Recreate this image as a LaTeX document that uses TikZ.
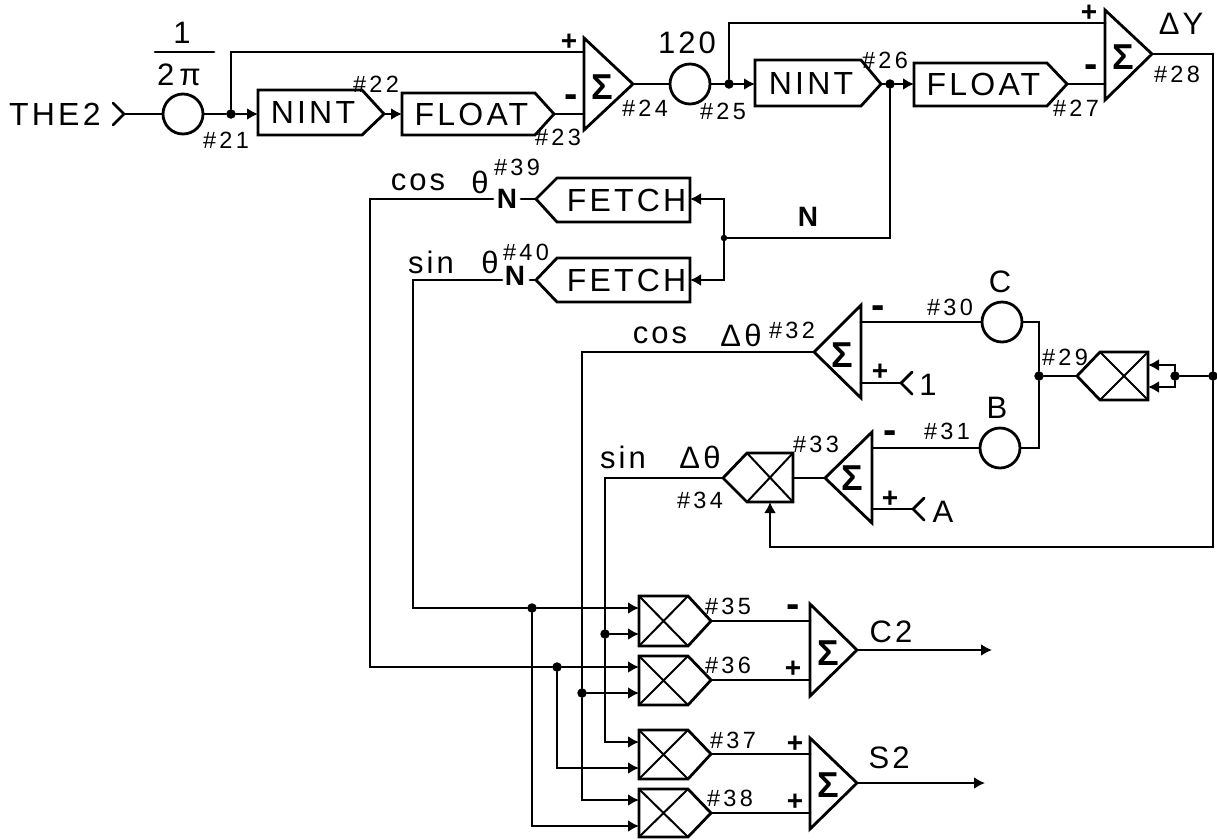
\documentclass[tikz,border=0pt]{standalone}
\usepackage{fontspec}
\setmainfont{Liberation Sans}
\newfontfamily\trkfont[LetterSpace=10]{Liberation Sans}
\newfontfamily\trkwide[LetterSpace=14]{Liberation Sans}
\usetikzlibrary{arrows.meta}
\tikzset{
  x=1pt,y=-1pt,
  wire/.style={line width=2.8pt,line cap=round,line join=miter},
  inwire/.style={wire,-{Latex[length=11pt,width=12pt]}},
  outline/.style={line width=2.8pt,line join=miter},
  cross/.style={line width=2pt},
  dot/.style={circle,fill=black,inner sep=0,minimum size=9.5pt},
  gain/.style={circle,draw,line width=2.8pt,inner sep=0,minimum size=40pt},
  blocktext/.style={inner sep=0,font=\fontsize{32}{36}\selectfont\trkfont},
  biglabel/.style={inner sep=0,font=\fontsize{31}{34}\selectfont\trkfont},
  numlabel/.style={inner sep=0,font=\fontsize{23.5}{26}\selectfont\trkwide},
  sigma/.style={inner sep=0,font=\fontsize{36}{38}\selectfont\bfseries},
  plus/.style={inner sep=0,font=\fontsize{28}{30}\selectfont\bfseries},
  minus/.style={inner sep=0,font=\fontsize{40}{42}\selectfont\bfseries},
  boldn/.style={inner sep=0,font=\fontsize{28}{30}\selectfont\bfseries},
}
% name, flat x, top y, bottom y, tip x, tip y, sigma x, sigma y
\newcommand{\sumgate}[8]{%
  \draw[outline] (#2,#3) -- (#5,#6) -- (#2,#4) -- cycle;
  \coordinate (#1-out) at (#5,#6);
  \node[sigma] (#1) at (#7,#8) {Σ};
}
% name, flat x, shoulder x, tip x, top y, bottom y, tip y, text
\newcommand{\tagbox}[8]{%
  \draw[outline] (#2,#5) -- (#3,#5) -- (#4,#7) -- (#3,#6) -- (#2,#6) -- cycle;
  \coordinate (#1-out) at (#4,#7);
  \node[blocktext] (#1) at ({(#2+#3)/2+3},{(#5+#6)/2}) {#8};
}
% name, flat x, shoulder x, tip x, top y, bottom y, tip y
\newcommand{\multgate}[7]{%
  \draw[outline] (#2,#5) -- (#3,#5) -- (#4,#7) -- (#3,#6) -- (#2,#6) -- cycle;
  \draw[cross] (#2,#5) -- (#3,#6) (#2,#6) -- (#3,#5);
  \coordinate (#1-out) at (#4,#7);
  \node[inner sep=0] (#1) at ({(#2+#3)/2},{(#5+#6)/2}) {};
}
% name, x, y, direction
\newcommand{\fork}[4]{%
  \draw[wire] (#2-#4*11,#3-11) -- (#2,#3) -- (#2-#4*11,#3+11);
  \coordinate (#1) at (#2,#3);
}
\begin{document}
\begin{tikzpicture}
\useasboundingbox (0,0) rectangle (1217,839);

% ---------- top row ----------
\node[blocktext,anchor=west] (the2) at (9,114) {THE2};
\fork{inA}{124}{114}{1}
\node[gain] (g21) at (183,114) {};
\node[biglabel] (fr1) at (182,33) {1};
\coordinate (barL) at (155,52);
\coordinate (barR) at (214,52);
\draw[wire] (barL) -- (barR);
\node[biglabel] (fr2) at (179,75) {2\,π};
\node[dot] (j21) at (231,114) {};
\tagbox{nint1}{258}{362}{384}{90}{135}{114}{NINT}
\tagbox{float1}{402}{535}{554}{93}{135}{114}{FLOAT}
\sumgate{s24}{584}{38}{130}{633}{84}{602}{87}
\coordinate (s24a) at (584,52);
\coordinate (s24b) at (584,114);
\coordinate (nint1in) at (258,114);
\coordinate (float1in) at (402,114);
\node[gain] (g25) at (690,84) {};
\node[biglabel] (l120) at (687,43) {120};
\node[dot] (j25) at (729,84) {};
\tagbox{nint2}{755}{861}{881}{60}{106}{84}{NINT}
\tagbox{float2}{914}{1047}{1067}{63}{106}{84}{FLOAT}
\sumgate{s28}{1105}{10}{100}{1152}{54}{1123}{57}
\coordinate (s28a) at (1105,23);
\coordinate (s28b) at (1105,84);
\coordinate (nint2in) at (755,84);
\coordinate (float2in) at (914,84);
\node[dot] (j26) at (890,84) {};
\coordinate (rc) at (1213,54);

\draw[wire] (inA) -- (g21);
\draw[wire] (g21) -- (j21);
\draw[inwire] (j21) -- (nint1in);
\draw[wire] (j21) |- (s24a);
\draw[inwire] (nint1-out) -- (float1in);
\draw[wire] (float1-out) -- (s24b);
\draw[wire] (s24-out) -- (g25);
\draw[wire] (g25) -- (j25);
\draw[inwire] (j25) -- (nint2in);
\draw[wire] (j25) |- (s28a);
\draw[wire] (nint2-out) -- (j26);
\draw[inwire] (j26) -- (float2in);
\draw[wire] (float2-out) -- (s28b);
\draw[wire] (s28-out) -- (rc);

\node[plus] (p24) at (569,42) {+};
\node[minus] (m24) at (571,101) {-};
\node[plus] (p28) at (1089,13) {+};
\node[minus] (m28) at (1091,71) {-};
\node[numlabel] (n21) at (226,140) {\#21};
\node[numlabel] (n22) at (376,84) {\#22};
\node[numlabel] (n23) at (558,137) {\#23};
\node[numlabel] (n24) at (645,108) {\#24};
\node[numlabel] (n25) at (723,111) {\#25};
\node[numlabel] (n26) at (885,60) {\#26};
\node[numlabel] (n27) at (1076,108) {\#27};
\node[numlabel] (n28) at (1177,74) {\#28};
\node[biglabel] (dy) at (1181,24) {ΔY};

% ---------- fetch ----------
\tagbox{fetch1}{690}{557}{536}{178}{222}{199}{FETCH}
\tagbox{fetch2}{690}{557}{536}{258}{302}{280}{FETCH}
\node[dot,minimum size=6.5pt] (jN) at (724,238) {};
\coordinate (f1in) at (690,199);
\coordinate (f2in) at (690,280);
\node[boldn] (lN) at (808,217) {N};
\node[boldn] (N1) at (507,199) {N};
\node[boldn] (N2) at (515,276) {N};
\coordinate (N1e) at (521,199);
\coordinate (N1w) at (493,199);
\coordinate (N2e) at (530,280);
\coordinate (N2w) at (502,280);
\draw[wire] (j26) |- (jN);
\draw[inwire] (jN) |- (f1in);
\draw[inwire] (jN) |- (f2in);
\draw[wire] (fetch1-out) -- (N1e);
\draw[wire] (fetch2-out) -- (N2e);
\node[biglabel] (lcos) at (418,182) {cos};
\node[biglabel] (lth1) at (480,182) {θ};
\node[numlabel] (n39) at (517,167) {\#39};
\node[biglabel] (lsin) at (431,262) {sin};
\node[biglabel] (lth2) at (490,262) {θ};
\node[numlabel] (n40) at (526,252) {\#40};

% ---------- square-root section ----------
\multgate{m29}{1148}{1100}{1077}{352}{400}{376}
\node[dot] (j29r) at (1175,376) {};
\node[dot] (jr) at (1213,376) {};
\coordinate (m29a) at (1148,365);
\coordinate (m29b) at (1148,387);
\draw[wire] (rc) -- (jr);
\draw[wire] (jr) -- (j29r);
\draw[inwire] (j29r) |- (m29a);
\draw[inwire] (j29r) |- (m29b);
\node[dot] (j29) at (1039,376) {};
\draw[wire] (m29-out) -- (j29);
\node[gain] (gC) at (1002,322) {};
\node[gain] (gB) at (1000,448) {};
\coordinate (jup) at (1039,322);
\coordinate (jdn) at (1039,448);
\draw[wire] (j29) -- (jup) -- (gC);
\draw[wire] (j29) -- (jdn) -- (gB);
\node[biglabel] (lC) at (1000,282) {C};
\node[biglabel] (lB) at (997,408) {B};
\node[numlabel] (n29) at (1065,357) {\#29};
\node[numlabel] (n30) at (950,307) {\#30};
\node[numlabel] (n31) at (947,431) {\#31};

\sumgate{s32}{861}{305}{398}{814}{352}{842}{355}
\coordinate (s32a) at (861,322);
\coordinate (s32b) at (861,383);
\draw[wire] (gC) -- (s32a);
\fork{in1}{901}{383}{-1}
\draw[wire] (in1) -- (s32b);
\node[biglabel] (l1) at (928,385) {1};
\node[minus] (m32) at (878,312) {-};
\node[plus] (p32) at (880,372) {+};
\node[biglabel] (lcos2) at (660,335) {cos};
\node[biglabel] (ldt1) at (741,335) {Δθ};
\node[numlabel] (n32) at (792,330) {\#32};

\sumgate{s33}{872}{432}{523}{825}{478}{852}{478}
\coordinate (s33a) at (872,448);
\coordinate (s33b) at (872,509);
\draw[wire] (gB) -- (s33a);
\fork{inAA}{913}{509}{-1}
\draw[wire] (inAA) -- (s33b);
\node[biglabel] (lA) at (943,512) {A};
\node[minus] (m33) at (890,437) {-};
\node[plus] (p33) at (890,499) {+};
\node[numlabel] (n33) at (816,444) {\#33};

\multgate{m34}{793}{747}{723}{453}{502}{478}
\coordinate (m34r) at (793,478);
\draw[wire] (s33-out) -- (m34r);
\coordinate (m34in) at (770,502);
\coordinate (fbk) at (1213,547);
\draw[wire] (jr) -- (fbk);
\draw[inwire] (fbk) -| (m34in);
\node[biglabel] (lsin2) at (623,457) {sin};
\node[biglabel] (ldt2) at (700,457) {Δθ};
\node[numlabel] (n34) at (700,500) {\#34};

% ---------- output multipliers ----------
\multgate{m35}{639}{688}{711}{596}{646}{621}
\multgate{m36}{639}{688}{711}{656}{705}{680}
\multgate{m37}{639}{688}{711}{730}{779}{754}
\multgate{m38}{639}{688}{711}{789}{837}{813}
\coordinate (m35a) at (639,608);
\coordinate (m35b) at (639,634);
\coordinate (m36a) at (639,667);
\coordinate (m36b) at (639,693);
\coordinate (m37a) at (639,742);
\coordinate (m37b) at (639,768);
\coordinate (m38a) at (639,800);
\coordinate (m38b) at (639,826);
\coordinate (cosT) at (370,199);
\coordinate (sinT) at (413,280);
\coordinate (cosB) at (370,667);
\coordinate (sinB) at (413,608);
\coordinate (cdT) at (582,352);
\coordinate (sdT) at (605,478);
\node[dot] (j532) at (532,608) {};
\node[dot] (j557) at (557,667) {};
\node[dot] (j605) at (605,634) {};
\node[dot] (j582) at (582,693) {};
\draw[wire] (N1w) -- (cosT) -- (cosB) -- (j557);
\draw[wire] (N2w) -- (sinT) -- (sinB) -- (j532);
\draw[inwire] (j532) -- (m35a);
\draw[inwire] (j532) |- (m38b);
\draw[inwire] (j557) -- (m36a);
\draw[inwire] (j557) |- (m37b);
\draw[wire] (s32-out) -- (cdT) -- (j582);
\draw[inwire] (j582) -- (m36b);
\draw[inwire] (j582) |- (m38a);
\draw[wire] (m34-out) -- (sdT) -- (j605);
\draw[inwire] (j605) -- (m35b);
\draw[inwire] (j605) |- (m37a);

\sumgate{c2}{810}{604}{696}{857}{650}{828}{653}
\sumgate{s2}{810}{738}{829}{857}{783}{828}{785}
\coordinate (c2a) at (810,621);
\coordinate (c2b) at (810,680);
\coordinate (s2a) at (810,754);
\coordinate (s2b) at (810,813);
\coordinate (c2end) at (992,650);
\coordinate (s2end) at (985,783);
\draw[wire] (m35-out) -- (c2a);
\draw[wire] (m36-out) -- (c2b);
\draw[wire] (m37-out) -- (s2a);
\draw[wire] (m38-out) -- (s2b);
\draw[inwire] (c2-out) -- (c2end);
\draw[inwire] (s2-out) -- (s2end);
\node[minus] (m35s) at (793,611) {-};
\node[plus] (p36) at (793,669) {+};
\node[plus] (p37) at (795,744) {+};
\node[plus] (p38) at (795,802) {+};
\node[biglabel] (lC2) at (891,632) {C2};
\node[biglabel] (lS2) at (889,758) {S2};
\node[numlabel] (n35) at (728,606) {\#35};
\node[numlabel] (n36) at (728,665) {\#36};
\node[numlabel] (n37) at (733,740) {\#37};
\node[numlabel] (n38) at (730,798) {\#38};
\end{tikzpicture}
\end{document}
